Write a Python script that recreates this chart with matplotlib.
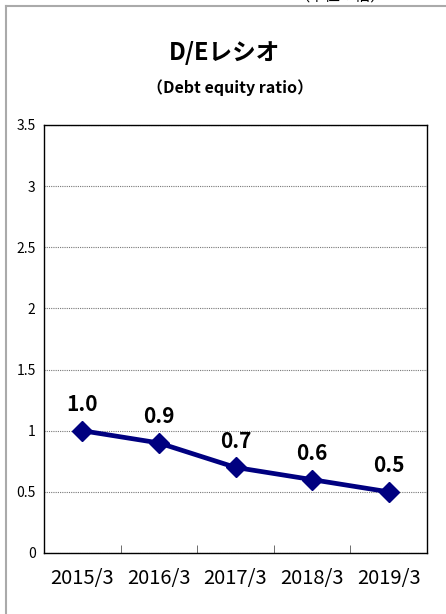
import matplotlib.pyplot as plt
from matplotlib.lines import Line2D

plt.rcParams['font.family'] = ['Noto Sans CJK JP', 'DejaVu Sans']

# データ
periods = ['2015/3', '2016/3', '2017/3', '2018/3', '2019/3']
de_ratio = [1.0, 0.9, 0.7, 0.6, 0.5]
yticks = [0, 0.5, 1, 1.5, 2, 2.5, 3, 3.5]
ytick_labels = ['0', '0.5', '1', '1.5', '2', '2.5', '3', '3.5']

W, H = 446, 614
fig = plt.figure(figsize=(W / 100, H / 100), dpi=100)

# 外枠 (左と上だけ見えている)
fig.add_artist(Line2D([5.5 / W, 5.5 / W], [0, 1 - 5.5 / H], color='#aaaaaa', lw=1.5))
fig.add_artist(Line2D([5.5 / W, 1], [1 - 5.5 / H, 1 - 5.5 / H], color='#aaaaaa', lw=1.5))

# 上端で切れている単位表示
fig.text(340 / W, 1 - 1 / H, '（単位：倍）', fontsize=11, ha='center', va='baseline')

ax = fig.add_axes([44 / W, 1 - 553 / H, (427 - 44) / W, (553 - 125) / H])

x = list(range(len(periods)))
ax.plot(x, de_ratio, color='#000080', lw=3.4, marker='D', markersize=10,
        markerfacecolor='#000080', markeredgecolor='#000080', zorder=3)

for xi, v in zip(x, de_ratio):
    ax.annotate(f'{v:.1f}', (xi, v), xytext=(0, 19), textcoords='offset points',
                ha='center', va='center', fontsize=15, fontweight='bold')

ax.set_xlim(-0.5, len(periods) - 0.5)
ax.set_ylim(0, 3.5)
ax.set_yticks(yticks)
ax.set_yticklabels(ytick_labels, fontsize=10)
ax.tick_params(axis='y', length=0, pad=6)

ax.set_xticks(x)
ax.set_xticklabels(periods, fontsize=14.5)
ax.tick_params(axis='x', which='major', length=0, pad=11)
ax.set_xticks([i + 0.5 for i in x[:-1]], minor=True)
ax.tick_params(axis='x', which='minor', direction='in', length=6, color='#555555')

ax.grid(axis='y', color='#777777', linestyle=(0, (1, 1)), lw=0.8)
for s in ax.spines.values():
    s.set_color('black')
    s.set_linewidth(1.0)

fig.text(225 / W, 1 - 53 / H, 'D/Eレシオ', fontsize=17, fontweight='bold',
         ha='center', va='center')
fig.text(230 / W, 1 - 88 / H, '（Debt equity ratio）', fontsize=11.5, fontweight='bold',
         ha='center', va='center')

fig.savefig('out.png', dpi=100)
